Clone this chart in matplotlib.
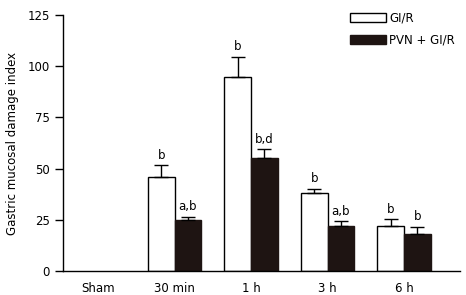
import numpy as np
import matplotlib.pyplot as plt

plt.rcParams['font.family'] = 'DejaVu Sans'
plt.rcParams['font.size'] = 8

groups = ['Sham', '30 min', '1 h', '3 h', '6 h']
gir = [0, 45.7, 94.6, 37.9, 21.8]
gir_err = [0, 5.9, 10.0, 2.3, 3.4]
pvn = [0, 24.9, 55.2, 21.8, 17.9]
pvn_err = [0, 1.6, 4.2, 2.5, 3.7]
gir_marks = ['', 'b', 'b', 'b', 'b']
pvn_marks = ['', 'a,b', 'b,d', 'a,b', 'b']

fig = plt.figure(figsize=(4.66, 2.95), dpi=100)
ax = fig.add_axes([0.135, 0.0814, 0.852, 0.868])

x = np.arange(len(groups))
w = 0.35
has = np.array(gir) > 0
ekw = dict(ecolor='black', elinewidth=1, capsize=5, capthick=1)
ge = np.array(gir_err)[has]
pe = np.array(pvn_err)[has]
ax.bar(x[has] - w/2, np.array(gir)[has], w, color='white', edgecolor='black', linewidth=1.0,
       yerr=[np.zeros_like(ge), ge], error_kw=ekw, label='GI/R')
ax.bar(x[has] + w/2, np.array(pvn)[has], w, color='#1e1412', edgecolor='#1e1412', linewidth=1.0,
       yerr=[np.zeros_like(pe), pe], error_kw=ekw, label='PVN + GI/R')

for i in range(len(groups)):
    if gir_marks[i]:
        ax.text(x[i] - w/2, gir[i] + gir_err[i] + 1.8, gir_marks[i], ha='center', va='bottom', fontsize=8.5)
    if pvn_marks[i]:
        ax.text(x[i] + w/2, pvn[i] + pvn_err[i] + 1.8, pvn_marks[i], ha='center', va='bottom', fontsize=8.5)

ax.set_xlim(-0.46, 4.73)
ax.set_ylim(0, 125)
ax.set_yticks([0, 25, 50, 75, 100, 125])
ax.set_xticks(x)
ax.set_xticklabels(groups)
ax.tick_params(axis='x', length=0, pad=8, labelsize=8.5)
ax.tick_params(axis='y', length=6, width=1, labelsize=8.5)
ax.spines['top'].set_visible(False)
ax.spines['right'].set_visible(False)
ax.spines['left'].set_linewidth(1)
ax.spines['bottom'].set_linewidth(1)
ax.set_ylabel('Gastric mucosal damage index', fontsize=8.5, labelpad=6)

ax.legend(loc='upper left', bbox_to_anchor=(0.703, 1.045), frameon=False, fontsize=8.5,
          handlelength=3.0, handleheight=0.8, handletextpad=0.3, labelspacing=0.75,
          borderpad=0.2)

fig.savefig('out.png', dpi=100)
